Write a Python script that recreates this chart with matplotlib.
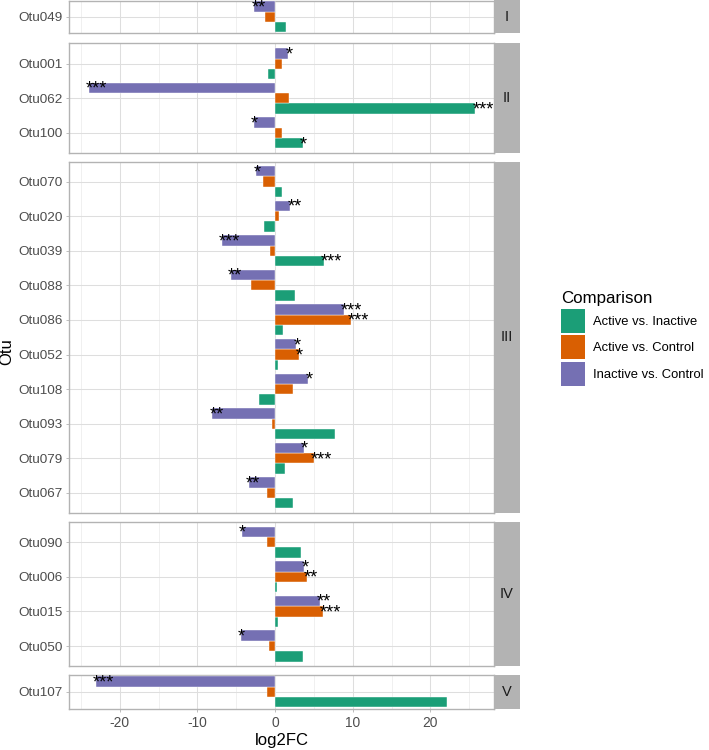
import numpy as np
import matplotlib
matplotlib.use("Agg")
import matplotlib.pyplot as plt
from matplotlib.patches import Patch, Rectangle

plt.rcParams['font.family'] = ['Liberation Sans', 'DejaVu Sans']
plt.rcParams['axes.unicode_minus'] = False

# data, top to bottom, grouped by cluster
groups = ["I", "II", "III", "IV", "V"]
group_otus = [
    ["Otu049"],
    ["Otu001", "Otu062", "Otu100"],
    ["Otu070", "Otu020", "Otu039", "Otu088", "Otu086", "Otu052", "Otu108", "Otu093", "Otu079", "Otu067"],
    ["Otu090", "Otu006", "Otu015", "Otu050"],
    ["Otu107"],
]
otus = [o for g in group_otus for o in g]

comparisons = ["Active vs. Inactive", "Active vs. Control", "Inactive vs. Control"]
colors = ["#1B9E77", "#D95F02", "#7570B3"]

act_inact = [1.42, -0.86, 25.8, 3.56, 0.9, -1.46, 6.3, 2.62, 0.99, 0.34, -2.06, 7.77, 1.33, 2.32,
             3.35, 0.26, 0.34, 3.65, 22.2]
act_ctrl = [-1.24, 0.9, 1.76, 0.9, -1.5, 0.56, -0.6, -3.09, 9.74, 3.09, 2.27, -0.34, 4.98, -1.03,
            -0.99, 4.08, 6.14, -0.73, -1.03]
inact_ctrl = [-2.66, 1.72, -24.0, -2.7, -2.4, 1.97, -6.87, -5.67, 8.84, 2.75, 4.29, -8.07, 3.73, -3.35,
              -4.29, 3.78, 5.79, -4.38, -23.1]

sig_act_inact = ["", "", "***", "*", "", "", "***", "", "", "", "", "", "", "",
                 "", "", "", "", ""]
sig_act_ctrl = ["", "", "", "", "", "", "", "", "***", "*", "", "", "***", "",
                "", "**", "***", "", ""]
sig_inact_ctrl = ["**", "*", "***", "*", "*", "**", "***", "**", "***", "*", "*", "**", "*", "**",
                  "*", "*", "**", "*", "***"]

values = [act_inact, act_ctrl, inact_ctrl]
sigs = [sig_act_inact, sig_act_ctrl, sig_inact_ctrl]

# layout in pixels
W, H = 709, 750
px0, px1 = 69.3, 494.0
strip_w = 26.0
panel_px = [(0.5, 33.3), (43.3, 153.3), (161.7, 512.7), (522.3, 666.0), (675.0, 708.7)]
unit_px = 34.6
xlim = (-26.5, 28.2)

fig = plt.figure(figsize=(W / 100, H / 100), dpi=100)

bw = 0.3
offsets = [bw, 0.0, -bw]   # green bottom, orange middle, purple top (y inverted)
for gi, (g, gotus) in enumerate(zip(groups, group_otus)):
    top, bot = panel_px[gi]
    ax = fig.add_axes([px0 / W, 1 - bot / H, (px1 - px0) / W, (bot - top) / H])
    n = len(gotus)
    pad = ((bot - top) / unit_px - (n - 1)) / 2
    idx = [otus.index(o) for o in gotus]
    ypos = np.arange(n)
    for ci in range(3):
        vals = [values[ci][k] for k in idx]
        ax.barh(ypos + offsets[ci], vals, height=bw, color=colors[ci],
                edgecolor="white", linewidth=0.3, zorder=3)
        for j, k in enumerate(idx):
            s = sigs[ci][k]
            if s:
                ax.text(values[ci][k] - 0.4, ypos[j] + offsets[ci] + 0.04, s,
                        ha="left", va="center", fontsize=13, color="black", zorder=4)
    ax.set_ylim(n - 1 + pad, -pad)
    ax.set_xlim(*xlim)
    ax.set_yticks(ypos)
    ax.set_yticklabels(gotus)
    ax.set_xticks([-20, -10, 0, 10, 20])
    ax.set_xticks([-25, -15, -5, 5, 15, 25], minor=True)
    ax.grid(True, which="major", color="#DEDEDE", linewidth=0.75, zorder=0)
    ax.grid(True, which="minor", axis="x", color="#E8E8E8", linewidth=0.45, zorder=0)
    ax.tick_params(axis="y", which="major", length=2.5, width=0.6, color="#B3B3B3",
                   labelsize=9.7, labelcolor="#4D4D4D", pad=2)
    ax.tick_params(axis="y", which="minor", length=0)
    ax.tick_params(axis="x", which="minor", length=0)
    if gi < len(groups) - 1:
        ax.tick_params(axis="x", which="major", length=0, labelbottom=False)
    else:
        ax.tick_params(axis="x", which="major", length=2.5, width=0.6, color="#B3B3B3",
                       labelsize=9.9, labelcolor="#4D4D4D", pad=3)
    for sp in ax.spines.values():
        sp.set_color("#B3B3B3")
        sp.set_linewidth(1.0)
    ax.set_axisbelow(True)

    # strip
    fig.patches.append(Rectangle((px1 / W, 1 - bot / H), strip_w / W, (bot - top) / H,
                                 transform=fig.transFigure, facecolor="#B3B3B3",
                                 edgecolor="none", zorder=1))
    fig.text((px1 + strip_w / 2) / W, 1 - (top + bot) / 2 / H, g, ha="center", va="center",
             fontsize=10.5, color="#1A1A1A")

fig.text((px0 + px1) / 2 / W, 1 - 740 / H, "log2FC", ha="center", va="center", fontsize=12)
fig.text(7 / W, 1 - 352 / H, "Otu", ha="center", va="center", rotation=90, fontsize=12)

handles = [Patch(facecolor=c, edgecolor="none") for c in colors]
leg = fig.legend(handles, comparisons, loc="upper left",
                 bbox_to_anchor=(561 / W, 1 - 291 / H), frameon=False,
                 title="Comparison", title_fontsize=12.2, fontsize=9.4,
                 handlelength=1.85, handleheight=2.45, labelspacing=0.2,
                 handletextpad=0.62, borderpad=0.0, borderaxespad=0.0)
leg._legend_box.align = "left"

fig.savefig("out.png", dpi=100)
